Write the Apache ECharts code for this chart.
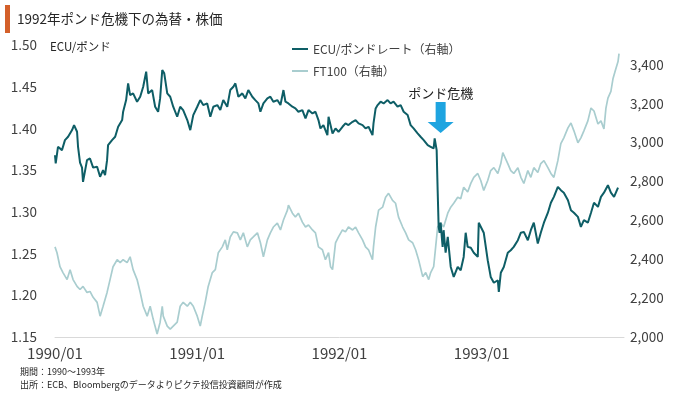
<!DOCTYPE html>
<html><head><meta charset="utf-8">
<script src="https://cdn.jsdelivr.net/npm/echarts@6/dist/echarts.min.js"></script>
<style>html,body{margin:0;padding:0;background:#fff}#c{width:680px;height:395px}</style>
</head><body><div id="c"></div>
<script>
const chartTitle = '1992年ポンド危機下の為替・株価';
const ecuName = 'ECU/ポンドレート（右軸）';
const ftName = 'FT100（右軸）';
const leftUnit = 'ECU/ポンド';
const noteLines = ['期間：1990～1993年', '出所：ECB、Bloombergのデータよりピクテ投信投資顧問が作成'];
const xTickYears = [1990, 1991, 1992, 1993];
const annotationText = 'ポンド危機';
const crisisDate = 1992.711;
const crisisLevel = 1.3945;

// ECU per GBP (left axis), date as decimal year
const ecuDates = [1990.000,1990.005,1990.021,1990.049,1990.070,1990.092,1990.120,1990.134,1990.155,1990.162,1990.176,1990.190,1990.197,1990.225,1990.246,1990.268,1990.296,1990.317,1990.338,1990.352,1990.366,1990.373,1990.401,1990.423,1990.444,1990.472,1990.479,1990.500,1990.514,1990.528,1990.549,1990.577,1990.599,1990.620,1990.641,1990.655,1990.683,1990.704,1990.725,1990.739,1990.754,1990.768,1990.789,1990.810,1990.831,1990.859,
1990.880,1990.901,1990.930,1990.951,1990.972,1991.000,1991.021,1991.042,1991.070,1991.092,1991.113,1991.141,1991.162,1991.183,1991.211,1991.232,1991.254,1991.268,1991.289,1991.317,1991.338,1991.359,1991.387,1991.408,1991.430,1991.444,1991.465,1991.493,1991.514,1991.535,1991.563,1991.585,1991.606,1991.620,1991.641,1991.669,1991.690,1991.711,1991.739,1991.761,1991.782,1991.810,1991.831,1991.852,1991.866,1991.887,1991.915,
1991.923,1991.951,1991.972,1991.993,1992.021,1992.042,1992.063,1992.092,1992.113,1992.134,1992.162,1992.183,1992.204,1992.232,1992.239,1992.254,1992.268,1992.289,1992.310,1992.338,1992.359,1992.380,1992.408,1992.430,1992.451,1992.479,1992.500,1992.521,1992.549,1992.570,1992.592,1992.620,1992.641,1992.662,1992.669,1992.683,1992.690,1992.697,1992.704,1992.711,1992.725,1992.732,1992.746,1992.761,1992.782,1992.803,1992.831,
1992.852,1992.873,1992.887,1992.901,1992.923,1992.944,1992.972,1992.979,1992.993,1993.014,1993.042,1993.063,1993.085,1993.113,1993.120,1993.134,1993.155,1993.183,1993.204,1993.225,1993.254,1993.275,1993.296,1993.324,1993.345,1993.366,1993.394,1993.415,1993.437,1993.465,1993.486,1993.507,1993.535,1993.542,1993.556,1993.577,1993.606,1993.627,1993.648,1993.676,1993.697,1993.718,1993.746,1993.768,1993.789,1993.817,1993.838,1993.859,1993.887,1993.908,1993.930,1993.958];
const ecuValues = [1.368,1.358,1.378,1.374,1.386,1.390,1.398,1.404,1.396,1.378,1.359,1.353,1.336,1.362,1.364,1.353,1.354,1.342,1.350,1.344,1.362,1.380,1.386,1.390,1.402,1.410,1.420,1.434,1.454,1.440,1.442,1.432,1.438,1.450,1.468,1.442,1.446,1.426,1.420,1.436,1.470,1.466,1.442,1.438,1.426,1.414,
1.426,1.422,1.410,1.398,1.416,1.426,1.434,1.428,1.430,1.414,1.426,1.428,1.422,1.434,1.426,1.446,1.450,1.454,1.438,1.442,1.436,1.446,1.438,1.434,1.430,1.420,1.430,1.436,1.438,1.432,1.434,1.428,1.446,1.432,1.430,1.426,1.424,1.420,1.422,1.412,1.422,1.418,1.420,1.410,1.400,1.404,1.392,
1.414,1.394,1.400,1.396,1.402,1.406,1.404,1.408,1.410,1.406,1.404,1.400,1.402,1.392,1.406,1.424,1.428,1.432,1.430,1.434,1.430,1.432,1.426,1.428,1.420,1.416,1.404,1.400,1.394,1.390,1.386,1.380,1.378,1.376,1.388,1.374,1.326,1.282,1.275,1.287,1.258,1.278,1.251,1.270,1.234,1.222,1.234,
1.230,1.246,1.275,1.258,1.257,1.251,1.246,1.287,1.288,1.275,1.242,1.222,1.215,1.218,1.204,1.227,1.234,1.251,1.254,1.258,1.266,1.275,1.276,1.266,1.278,1.287,1.262,1.275,1.287,1.299,1.311,1.318,1.330,1.332,1.326,1.323,1.314,1.302,1.299,1.294,1.282,1.290,1.287,1.299,1.311,1.306,1.318,1.323,1.332,1.323,1.318,1.329];

// FT100 index (right axis)
const ftDates = [1990.000,1990.014,1990.035,1990.056,1990.085,1990.106,1990.127,1990.155,1990.176,1990.197,1990.225,1990.246,1990.268,1990.296,1990.317,1990.338,1990.366,1990.387,1990.408,1990.437,1990.458,1990.479,1990.507,1990.528,1990.549,1990.577,1990.599,1990.620,1990.648,1990.669,1990.690,1990.718,1990.739,1990.754,1990.761,1990.789,1990.810,1990.831,1990.859,
1990.880,1990.901,1990.930,1990.951,1990.972,1991.000,1991.021,1991.035,1991.056,1991.077,1991.106,1991.127,1991.148,1991.176,1991.197,1991.211,1991.232,1991.254,1991.282,1991.303,1991.324,1991.352,1991.373,1991.394,1991.423,1991.444,1991.465,1991.493,1991.514,1991.535,1991.563,1991.585,1991.606,1991.634,1991.641,1991.669,1991.690,1991.711,1991.739,1991.761,1991.782,1991.810,1991.831,1991.852,1991.880,1991.901,1991.923,
1991.937,1991.951,1991.972,1991.993,1992.021,1992.042,1992.063,1992.092,1992.113,1992.134,1992.162,1992.183,1992.204,1992.232,1992.239,1992.254,1992.275,1992.303,1992.324,1992.345,1992.373,1992.394,1992.415,1992.444,1992.465,1992.486,1992.514,1992.535,1992.556,1992.585,1992.606,1992.627,1992.641,1992.662,1992.676,1992.690,1992.711,1992.732,1992.761,1992.782,1992.803,1992.831,1992.852,
1992.873,1992.901,1992.923,1992.944,1992.972,1992.993,1993.014,1993.042,1993.063,1993.085,1993.113,1993.134,1993.148,1993.155,1993.183,1993.204,1993.225,1993.254,1993.275,1993.296,1993.324,1993.345,1993.366,1993.394,1993.415,1993.437,1993.465,1993.486,1993.507,1993.535,1993.556,1993.577,1993.606,1993.627,1993.648,1993.676,1993.697,1993.718,1993.746,1993.768,1993.789,1993.817,1993.838,1993.859,1993.873,1993.887,1993.908,1993.923,1993.937,1993.958,1993.965];
const ftValues = [2463,2433,2361,2331,2295,2346,2295,2260,2244,2260,2229,2234,2204,2178,2107,2158,2229,2295,2361,2397,2382,2397,2382,2412,2346,2295,2229,2158,2107,2158,2092,2015,2076,2158,2107,2056,2041,2056,2076,
2158,2178,2158,2178,2158,2107,2056,2107,2178,2260,2331,2346,2433,2463,2499,2448,2514,2540,2535,2499,2535,2463,2499,2514,2535,2484,2412,2499,2535,2565,2585,2550,2601,2652,2677,2636,2616,2636,2590,2565,2575,2550,2535,2463,2448,2397,2433,
2361,2346,2484,2514,2550,2540,2565,2550,2565,2535,2499,2463,2448,2397,2463,2565,2652,2667,2718,2738,2702,2687,2616,2565,2535,2499,2484,2448,2397,2310,2331,2295,2331,2361,2463,2565,2585,2565,2636,2667,2687,2718,2710,
2769,2745,2789,2820,2840,2804,2753,2804,2855,2870,2840,2891,2947,2957,2891,2855,2840,2870,2820,2789,2855,2820,2870,2845,2891,2906,2870,2840,2820,2906,2993,3023,3074,3099,3059,2998,3023,3059,3110,3176,3161,3094,3110,3069,3176,3227,3262,3328,3364,3415,3456];

const font = '"Noto Sans CJK JP", "Noto Sans", sans-serif';
const zip = (a, b) => a.map((d, i) => [d, b[i]]);
const chart = echarts.init(document.getElementById('c'), null, {renderer: 'canvas'});
chart.setOption({
  animation: false,
  backgroundColor: '#ffffff',
  textStyle: {fontFamily: font},
  title: {text: chartTitle, left: 17, top: 12, padding: 0,
    textStyle: {fontSize: 13.5, fontWeight: 'normal', color: '#262626', fontFamily: font}},
  graphic: [
    {type: 'rect', left: 5, top: 5, shape: {width: 5, height: 28}, style: {fill: '#D4602A'}},
    {type: 'text', left: 50, top: 41, style: {text: leftUnit, fill: '#262626', font: '11.5px ' + font}},
    {type: 'text', left: 20, top: 367, style: {text: noteLines[0], fill: '#262626', font: '9px ' + font}},
    {type: 'text', left: 20, top: 380, style: {text: noteLines[1], fill: '#262626', font: '9px ' + font}}
  ],
  legend: {
    orient: 'vertical', left: 287, top: 38, itemGap: 10, itemWidth: 16, itemHeight: 2, icon: 'rect',
    data: [ecuName, ftName],
    textStyle: {fontSize: 12, color: '#404040', fontFamily: font}
  },
  grid: {left: 55, right: 56, top: 45, bottom: 58},
  xAxis: {
    type: 'value', min: 1990, max: 1994, interval: 1,
    axisLine: {show: true, lineStyle: {color: '#d9d9d9', width: 1}},
    axisTick: {show: false}, splitLine: {show: false},
    axisLabel: {showMaxLabel: false, margin: 9, fontSize: 15, color: '#404040', fontFamily: font,
      formatter: v => xTickYears.includes(Math.round(v)) ? Math.round(v) + '/01' : ''}
  },
  yAxis: [
    {type: 'value', min: 1.15, max: 1.50, interval: 0.05,
      axisLine: {show: false}, axisTick: {show: false}, splitLine: {show: false},
      axisLabel: {margin: 18, fontSize: 13.5, color: '#404040', fontFamily: font, formatter: v => v.toFixed(2)}},
    {type: 'value', min: 2000, max: 3500, interval: 200, position: 'right',
      axisLine: {show: false}, axisTick: {show: false}, splitLine: {show: false},
      axisLabel: {showMaxLabel: false, margin: 6, fontSize: 13.5, color: '#404040', fontFamily: font,
        formatter: v => Math.round(v).toLocaleString('en-US')}}
  ],
  series: [
    {name: ftName, type: 'line', yAxisIndex: 1, data: zip(ftDates, ftValues), showSymbol: false,
      lineStyle: {width: 1.7, color: '#A9CDCF'}, itemStyle: {color: '#A9CDCF'}, z: 2},
    {name: ecuName, type: 'line', yAxisIndex: 0, data: zip(ecuDates, ecuValues), showSymbol: false,
      lineStyle: {width: 2, color: '#0E5E66'}, itemStyle: {color: '#0E5E66'}, z: 3,
      markPoint: {
        silent: true,
        symbol: 'path://M8,0 H18 V20 H26 L13,31 L0,20 H8 Z',
        symbolSize: [26, 31], symbolOffset: [0, '-50%'],
        itemStyle: {color: '#1EA4E0'},
        label: {show: true, position: 'top', distance: 2, formatter: annotationText,
          fontSize: 13, color: '#222', fontFamily: font},
        data: [{coord: [crisisDate, crisisLevel]}]
      }}
  ]
});
</script></body></html>
